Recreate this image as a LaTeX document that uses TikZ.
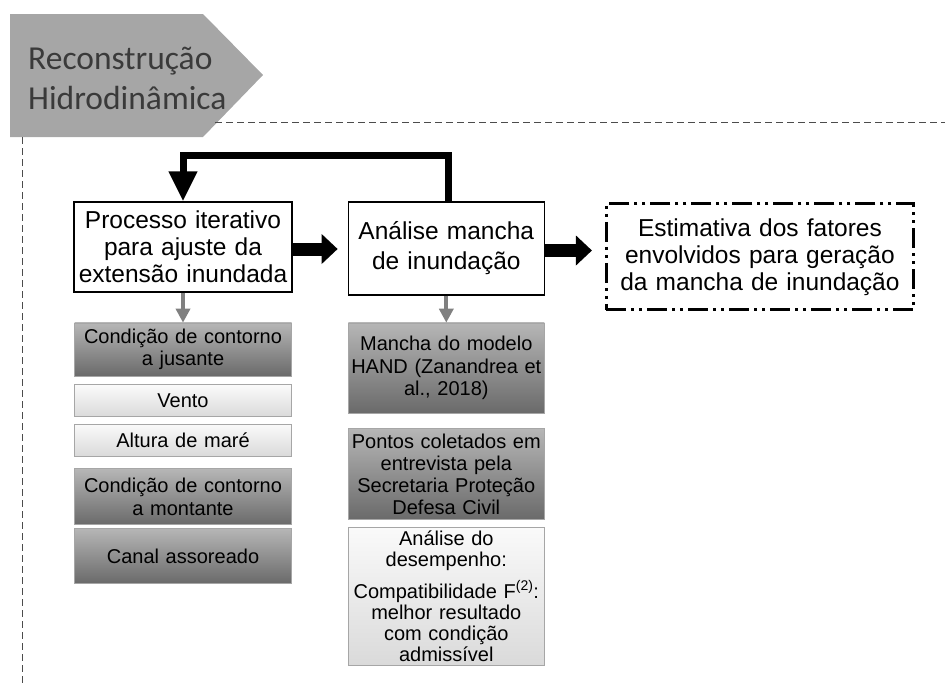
\documentclass[tikz,border=0pt]{standalone}
\usepackage{fontspec}
\setmainfont{Liberation Sans}
\newfontfamily\titlefont{Carlito}
\usetikzlibrary{positioning,arrows.meta}
\definecolor{titlegray}{HTML}{A6A6A6}
\definecolor{titletext}{HTML}{3A3A3A}
\definecolor{boxtop}{HTML}{B6B6B6}
\definecolor{boxbottom}{HTML}{6A6A6A}
\definecolor{lighttop}{HTML}{FAFAFA}
\definecolor{lightbottom}{HTML}{DADADA}
\definecolor{arrowgray}{HTML}{808080}

\begin{document}
\begin{tikzpicture}[x=1pt, y=-1pt, node distance=8pt,
  mainbox/.style={draw, line width=1.3pt, fill=white, align=center, inner sep=0pt, font=\fontsize{24.5}{27}\selectfont},
  darkbox/.style={draw=gray!70, line width=0.6pt, top color=boxtop, bottom color=boxbottom, align=center, inner sep=0pt, font=\fontsize{20}{22.5}\selectfont},
  lightbox/.style={draw=gray!70, line width=0.6pt, top color=lighttop, bottom color=lightbottom, align=center, inner sep=0pt, font=\fontsize{20}{21}\selectfont},
  bigarr/.style={-{Triangle[length=16pt,width=29pt]}, line width=13pt},
  fbarr/.style={-{Triangle[length=30pt,width=27pt]}, line width=7pt},
  smallarr/.style={-{Triangle[length=14pt,width=14pt]}, line width=4pt, draw=arrowgray},
  frame/.style={dash pattern=on 7pt off 4pt, line width=0.8pt, draw=gray!60!black}]
\useasboundingbox (0,0) rectangle (945,686);
% title tab and frame
\fill[titlegray] (10,14) -- (203,14) -- (263,75) -- (203,137) -- (10,137) -- cycle;
\node[anchor=west, align=left, inner sep=0pt, text=titletext, font=\titlefont\fontsize{33.5}{40}\selectfont] (titulo) at (28,78) {Reconstrução\\Hidrodinâmica};
\draw[frame] (215,122) -- (945,122);
\draw[frame] (22,137) -- (22,686);
% main row
\node[mainbox, text width=218pt, minimum height=90pt] (proc) at (183,247) {Processo iterativo\\para ajuste da\\extensão inundada};
\node[mainbox, text width=196pt, minimum height=93pt, right=55pt of proc.north east, anchor=north west, font=\fontsize{24.5}{30}\selectfont] (ana) {Análise mancha\\de inundação};
\node[mainbox, text width=307pt, minimum height=106pt, right=60pt of ana.north east, anchor=north west, yshift=-1pt, line width=3pt,
  dash pattern=on 20pt off 5pt on 3pt off 5pt on 3pt off 5pt] (est) {Estimativa dos fatores\\envolvidos para geração\\da mancha de inundação};
% left column
\node[darkbox, text width=217pt, minimum height=53pt, below=30pt of proc] (jus) {Condição de contorno\\a jusante};
\node[lightbox, text width=217pt, minimum height=32pt, below=8pt of jus] (vento) {Vento};
\node[lightbox, text width=217pt, minimum height=32pt, below=7pt of vento] (mare) {Altura de maré};
\node[darkbox, text width=217pt, minimum height=56pt, below=12pt of mare] (mont) {Condição de contorno\\a montante};
\node[darkbox, text width=217pt, minimum height=55pt, below=3pt of mont] (canal) {Canal assoreado};
% right column
\node[darkbox, text width=196pt, minimum height=90pt, below=27pt of ana] (hand) {Mancha do modelo\\HAND (Zanandrea et\\al., 2018)};
\node[darkbox, text width=196pt, minimum height=91pt, below=15pt of hand, font=\fontsize{20}{22}\selectfont] (pontos) {Pontos coletados em\\entrevista pela\\Secretaria Proteção\\Defesa Civil};
\node[lightbox, text width=196pt, minimum height=138pt, below=7pt of pontos] (desemp) {Análise do\\desempenho:\\[9pt]Compatibilidade F\textsuperscript{(2)}:\\melhor resultado\\com condição\\admissível};
% connectors
\draw[bigarr, shorten >=10pt] ([yshift=-2pt]proc.east) -- ([yshift=-2pt]proc.east -| ana.west);
\draw[bigarr, shorten >=13pt] ([yshift=-2pt]ana.east) -- ([yshift=-2pt]ana.east -| est.west);
\draw[fbarr, line join=miter] ([xshift=2pt]ana.north) -- ++(0,-46) -| (proc.north);
\draw[smallarr] (proc.south) -- (jus.north);
\draw[smallarr] (ana.south) -- (hand.north);
\end{tikzpicture}
\end{document}
